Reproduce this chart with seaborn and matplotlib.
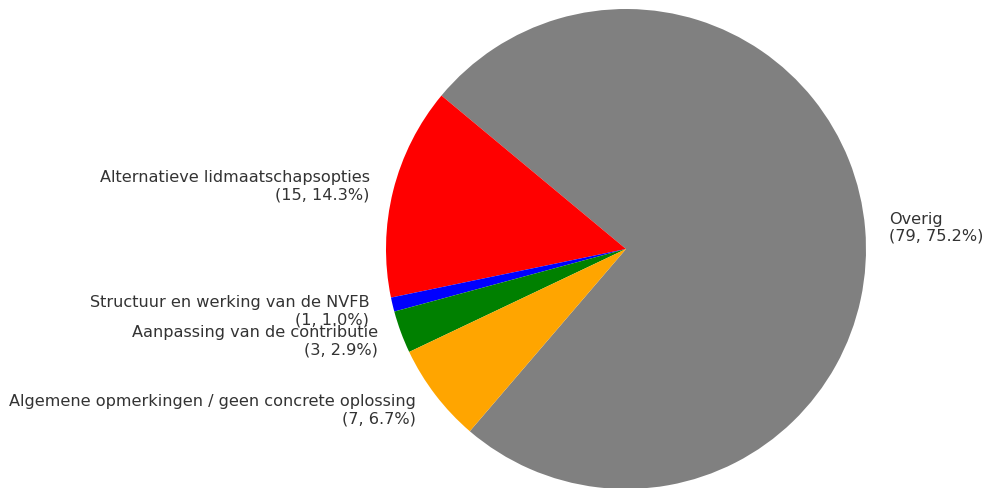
import matplotlib
matplotlib.use("Agg")
import matplotlib.pyplot as plt
import seaborn as sns

categories = ["Overig", "Alternatieve lidmaatschapsopties", "Structuur en werking van de NVFB",
              "Aanpassing van de contributie", "Algemene opmerkingen / geen concrete oplossing"]
counts = [79, 15, 1, 3, 7]
colors = ["gray", "red", "blue", "green", "orange"]

sns.set_theme(style="white")
plt.rcParams['font.family'] = ['DejaVu Sans']

total = sum(counts)
labels = [f"{c}\n({v}, {v / total * 100:.1f}%)" for c, v in zip(categories, counts)]

fig = plt.figure(figsize=(9.84, 4.89), dpi=100)
W, H = 984, 489
cx, cy, r = 626, 489 - 250, 240
ext = 1.25 * r
ax = fig.add_axes([(cx - ext) / W, (cy - ext) / H, 2 * ext / W, 2 * ext / H])
wedges, texts = ax.pie(counts, labels=labels, colors=colors, startangle=-130.6,
                       counterclock=True, wedgeprops={'linewidth': 0},
                       textprops={'fontsize': 11.6, 'color': '#333333'})
ax.set_aspect('equal')
fig.savefig("out.png", dpi=100)
